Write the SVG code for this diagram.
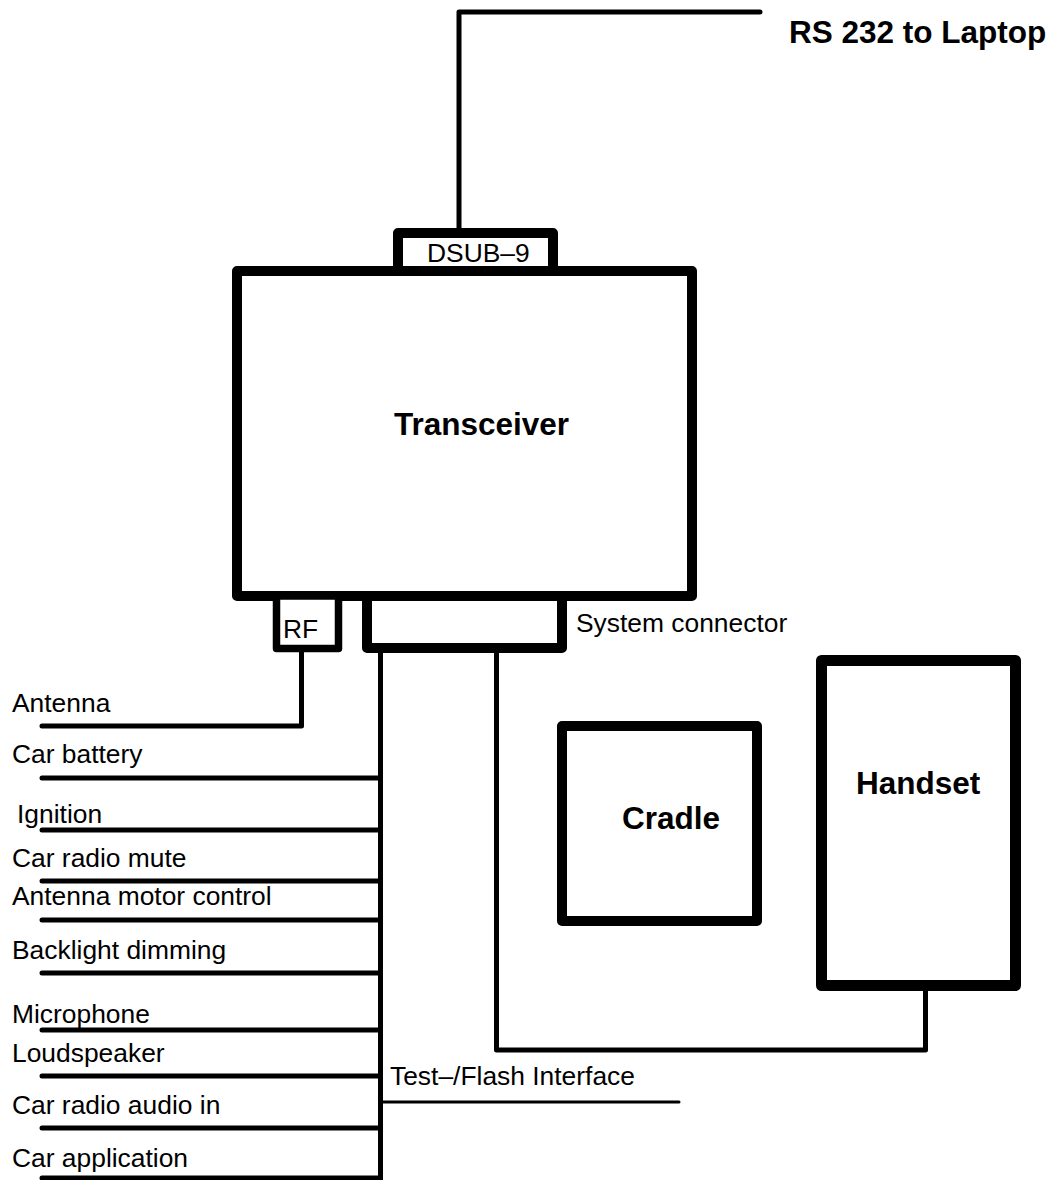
<svg xmlns="http://www.w3.org/2000/svg" width="1053" height="1180" viewBox="0 0 1053 1180">
<style>
.box{fill:#fff;stroke:#000;stroke-linejoin:round}
.w{fill:none;stroke:#000;stroke-width:5;stroke-linecap:round;stroke-linejoin:round}
.t{font-family:"Liberation Sans",Arial,sans-serif;font-size:26.4px;fill:#000}
.b{font-family:"Liberation Sans",Arial,sans-serif;font-size:31.5px;font-weight:bold;fill:#000}
</style>
<rect width="1053" height="1180" fill="#fff"/>
<g id="connectors">
<polyline class="w" points="459,233 459,12 760,12"/>
<polyline class="w" points="301.5,648 301.5,726 42,726"/>
<line class="w" x1="380.5" y1="648" x2="380.5" y2="1182" style="stroke-linecap:butt"/>
<line class="w" x1="42" y1="778" x2="380" y2="778"/>
<line class="w" x1="42" y1="830" x2="380" y2="830"/>
<line class="w" x1="42" y1="881" x2="380" y2="881"/>
<line class="w" x1="42" y1="920" x2="380" y2="920"/>
<line class="w" x1="42" y1="973" x2="380" y2="973"/>
<line class="w" x1="42" y1="1030" x2="380" y2="1030"/>
<line class="w" x1="42" y1="1076" x2="380" y2="1076"/>
<line class="w" x1="42" y1="1128" x2="380" y2="1128"/>
<line class="w" x1="42" y1="1178" x2="380" y2="1178"/>
<line class="w" x1="380" y1="1102" x2="679" y2="1102" style="stroke-width:3"/>
<polyline class="w" points="496.5,648 496.5,1050 925.5,1050 925.5,988"/>
</g>
<g id="dsub">
<rect class="box" x="398" y="233" width="155" height="40" style="stroke-width:10"/>
<text class="t" x="427" y="262">DSUB–9</text>
</g>
<g id="transceiver">
<rect class="box" x="237" y="271" width="455" height="325" style="stroke-width:10"/>
<text class="b" x="394" y="435">Transceiver</text>
</g>
<g id="rf">
<rect class="box" x="276.5" y="596" width="62" height="52.5" style="stroke-width:7.5"/>
<text class="t" x="283" y="638">RF</text>
</g>
<g id="system-connector">
<rect class="box" x="367" y="596" width="195" height="52" style="stroke-width:10"/>
<text class="t" x="576" y="632">System connector</text>
</g>
<g id="cradle">
<rect class="box" x="562" y="726" width="195" height="195" style="stroke-width:10"/>
<text class="b" x="622" y="829">Cradle</text>
</g>
<g id="handset">
<rect class="box" x="821.5" y="660.5" width="194" height="325" style="stroke-width:11"/>
<text class="b" x="856" y="794">Handset</text>
</g>
<g id="labels">
<text class="b" x="789" y="43">RS 232 to Laptop</text>
<text class="t" x="12" y="712">Antenna</text>
<text class="t" x="12" y="763">Car battery</text>
<text class="t" x="17" y="823">Ignition</text>
<text class="t" x="12" y="867">Car radio mute</text>
<text class="t" x="12" y="905">Antenna motor control</text>
<text class="t" x="12" y="959">Backlight dimming</text>
<text class="t" x="12" y="1023">Microphone</text>
<text class="t" x="12" y="1062">Loudspeaker</text>
<text class="t" x="12" y="1114">Car radio audio in</text>
<text class="t" x="12" y="1167">Car application</text>
<text class="t" x="390" y="1085">Test–/Flash Interface</text>
</g>
</svg>
